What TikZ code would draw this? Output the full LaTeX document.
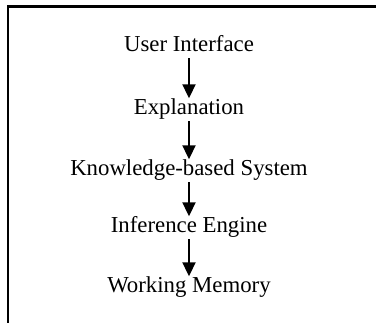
\documentclass[tikz,border=0pt]{standalone}
\usepackage{fontspec}
\setmainfont{Liberation Serif}
\usetikzlibrary{arrows.meta}
\tikzset{
  layer/.style={anchor=base, inner sep=0pt, text height=16pt, text depth=5pt,
    font=\fontsize{22.8}{26}\selectfont},
  flow/.style={line width=2pt, -{Triangle[length=14pt,width=13pt]},
    shorten <=1pt, shorten >=0.5pt}
}
\begin{document}
\begin{tikzpicture}[x=1pt, y=-1pt]
  \useasboundingbox (0,0) rectangle (376,323);
  % open frame, left and top sides only
  \draw[line width=2.5pt] (8,323) -- (8,6.5) -- (376,6.5);
  \node[layer] (ui) at (189,52) {User Interface};
  \node[layer] (expl) at (189,115) {Explanation};
  \node[layer] (kbs) at (189,176) {Knowledge-based System};
  \node[layer] (inf) at (189,233) {Inference Engine};
  \node[layer] (wm) at (189,293) {Working Memory};
  \draw[flow] (ui) -- (expl);
  \draw[flow] (expl) -- (kbs);
  \draw[flow] (kbs) -- (inf);
  \draw[flow] (inf) -- (wm);
\end{tikzpicture}
\end{document}
